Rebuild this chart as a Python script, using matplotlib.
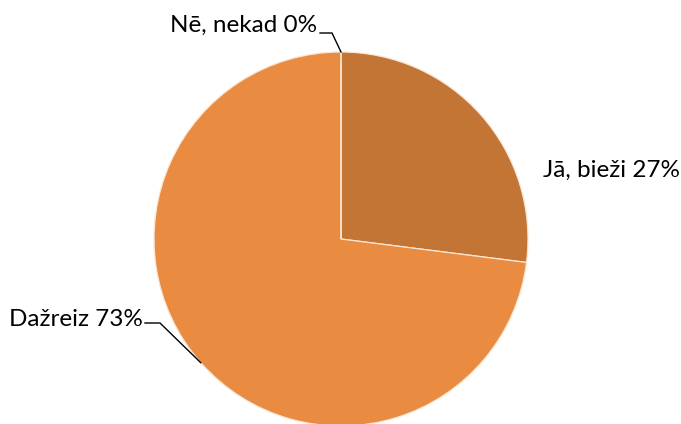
import matplotlib
matplotlib.use("Agg")
import matplotlib.pyplot as plt
import numpy as np

categories = ["Jā, bieži", "Dažreiz", "Nē, nekad"]
values = [27, 73, 0]
colors = ["#C37535", "#E98C42", "#A9A9A9"]

W, H = 681, 424
fig = plt.figure(figsize=(W / 100, H / 100), dpi=100)
ax = fig.add_axes([0, 0, 1, 1])
ax.set_xlim(0, W)
ax.set_ylim(0, H)
ax.set_aspect("equal")
ax.axis("off")

cx, cy, r = 341, H - 239, 187
wedges, _ = ax.pie(values, colors=colors, startangle=90, counterclock=False,
                   center=(cx, cy), radius=r, normalize=True,
                   wedgeprops=dict(edgecolor="#FBE6D4", linewidth=0.9))
ax.set_xlim(0, W)
ax.set_ylim(0, H)

font = dict(family=["Lato", "DejaVu Sans"], fontsize=17.5, color="#000000")
labels = [f"{c} {v}%" for c, v in zip(categories, values)]

def mid_point(i):
    start = 90 - sum(values[:i]) * 3.6
    mid = start - values[i] * 1.8
    t = np.deg2rad(mid)
    return cx + r * np.cos(t), cy + r * np.sin(t)

# Jā, bieži
ax.text(543, H - 170, labels[0], ha="left", va="center", **font)

# Dažreiz with leader line
px, py = mid_point(1)
ax.plot([px, 160, 145], [py, H - 323, H - 323], color="black", lw=1.0)
ax.text(143, H - 320, labels[1], ha="right", va="center", **font)

# Nē, nekad with leader line
px, py = mid_point(2)
ax.plot([px, 332, 320], [py, H - 33, H - 33], color="black", lw=1.0)
ax.text(317, H - 25, labels[2], ha="right", va="center", **font)

fig.savefig("out.png", dpi=100)
